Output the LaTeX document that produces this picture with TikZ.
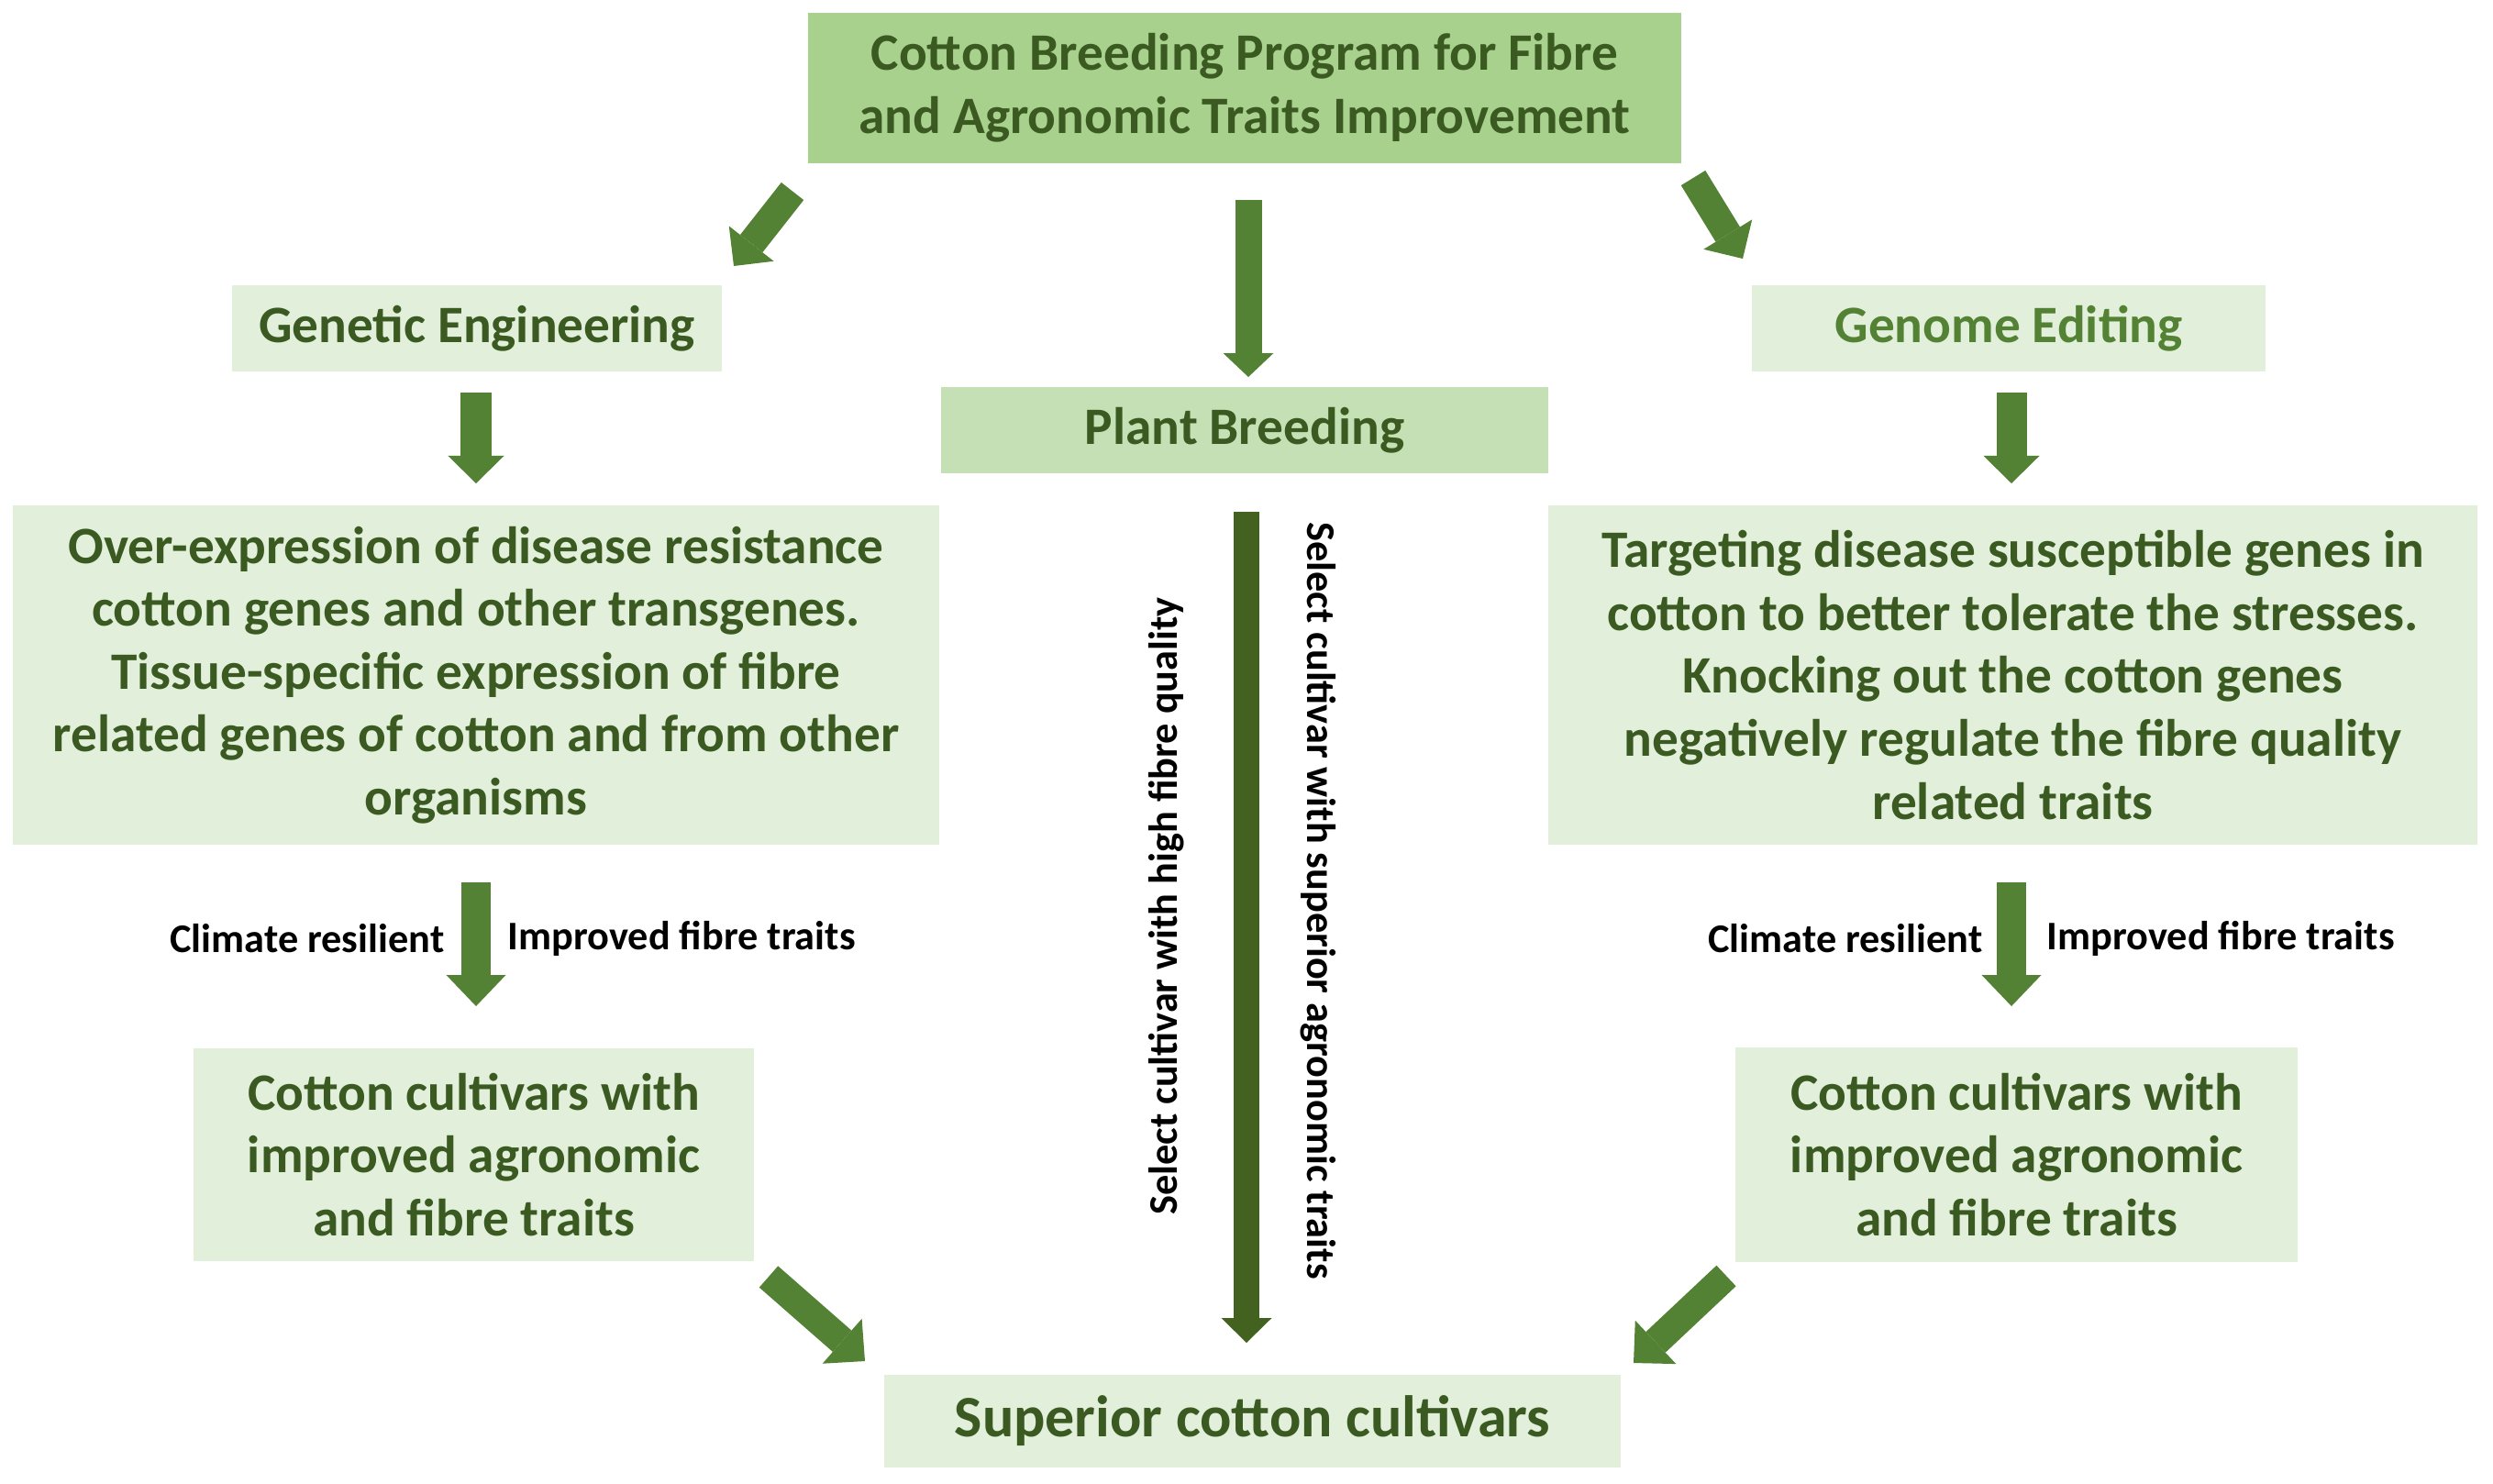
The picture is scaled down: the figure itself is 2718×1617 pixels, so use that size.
\documentclass[tikz,border=0pt]{standalone}
\usepackage{fontspec}
\setmainfont{Carlito}
\usetikzlibrary{arrows.meta}
\definecolor{boxlight}{HTML}{E2EFDA}
\definecolor{boxtop}{HTML}{A9D18E}
\definecolor{boxmid}{HTML}{C5E0B4}
\definecolor{txtgreen}{HTML}{3A5A22}
\definecolor{txtlight}{HTML}{548235}
\definecolor{arrgreen}{HTML}{548235}
\definecolor{arrdark}{HTML}{44621F}
\begin{document}
\begin{tikzpicture}[x=0.01cm,y=-0.01cm,
  box/.style={fill=boxlight, draw=none, inner sep=0pt, align=center, text=txtgreen,
    font=\bfseries\fontsize{16.3}{19.5}\selectfont},
  bigtxt/.style={font=\bfseries\fontsize{18.2}{22}\selectfont},
  lbl/.style={inner sep=0pt, text=black, font=\bfseries\fontsize{12.6}{15}\selectfont},
  arr/.style n args={3}{draw=arrgreen, line width=#1,
    -{Triangle[length=#3, width=#2, line width=0pt]}},
]
\useasboundingbox (0,0) rectangle (2718,1617);

% boxes
\node[box, fill=boxtop, minimum width=9.52cm, minimum height=1.63cm] (top) at (1357,96)
  {Cotton Breeding Program for Fibre\\and Agronomic Traits Improvement};
\node[box, minimum width=5.34cm, minimum height=0.93cm] (ge) at (520,358) {Genetic Engineering};
\node[box, text=txtlight, minimum width=5.60cm, minimum height=0.93cm] (ged) at (2190,358) {Genome Editing};
\node[box, fill=boxmid, minimum width=6.62cm, minimum height=0.93cm] (pb) at (1357,469) {Plant Breeding};
\node[box, minimum width=10.10cm, minimum height=3.70cm] (geb) at (519,736)
  {Over-expression of disease resistance\\cotton genes and other transgenes.\\Tissue-specific expression of fibre\\related genes of cotton and from other\\organisms};
\node[box, minimum width=10.13cm, minimum height=3.70cm] (gedb) at (2194.5,736)
  {Targeting disease susceptible genes in\\cotton to better tolerate the stresses.\\Knocking out the cotton genes\\negatively regulate the fibre quality\\related traits};
\node[box, minimum width=6.11cm, minimum height=2.31cm] (cl) at (516.5,1259)
  {Cotton cultivars with\\improved agronomic\\and fibre traits};
\node[box, minimum width=6.13cm, minimum height=2.33cm] (cr) at (2198.5,1259)
  {Cotton cultivars with\\improved agronomic\\and fibre traits};
\node[box, bigtxt, minimum width=8.03cm, minimum height=1.01cm] (sup) at (1365.5,1549)
  {Superior cotton cultivars};

% arrow end points
\coordinate (a1s) at (864,208.5);  \coordinate (a1e) at (800,290);
\coordinate (a2s) at (1361,218);   \coordinate (a2e) at (1361,411);
\coordinate (a3s) at (1846,194);   \coordinate (a3e) at (1900,282);
\coordinate (a4s) at (519,428);    \coordinate (a4e) at (519,527);
\coordinate (a5s) at (2193,428);   \coordinate (a5e) at (2193,527);
\coordinate (a6s) at (519,962);    \coordinate (a6e) at (519,1097);
\coordinate (a7s) at (2193,962);   \coordinate (a7e) at (2193,1097);
\coordinate (a8s) at (1359,558);   \coordinate (a8e) at (1359,1464);
\coordinate (a9s) at (838,1392);   \coordinate (a9e) at (943,1484);
\coordinate (a10s) at (1882,1391); \coordinate (a10e) at (1781,1486);

\draw[arr={0.31cm}{0.62cm}{0.31cm}] (a1s) -- (a1e);
\draw[arr={0.29cm}{0.55cm}{0.26cm}] (a2s) -- (a2e);
\draw[arr={0.31cm}{0.62cm}{0.31cm}] (a3s) -- (a3e);
\draw[arr={0.33cm}{0.61cm}{0.30cm}] (a4s) -- (a4e);
\draw[arr={0.33cm}{0.61cm}{0.30cm}] (a5s) -- (a5e);
\draw[arr={0.32cm}{0.65cm}{0.34cm}] (a6s) -- (a6e);
\draw[arr={0.32cm}{0.65cm}{0.34cm}] (a7s) -- (a7e);
\draw[arr={0.28cm}{0.55cm}{0.27cm}, draw=arrdark] (a8s) -- (a8e);
\draw[arr={0.31cm}{0.65cm}{0.33cm}] (a9s) -- (a9e);
\draw[arr={0.31cm}{0.65cm}{0.33cm}] (a10s) -- (a10e);

% labels
\node[lbl, anchor=east] (l1) at (485,1023) {Climate resilient};
\node[lbl, anchor=west] (l2) at (553,1023) {Improved fibre traits};
\node[lbl, anchor=east] (l3) at (2162,1023) {Climate resilient};
\node[lbl, anchor=west] (l4) at (2231,1023) {Improved fibre traits};
\node[lbl, rotate=90] (v1) at (1272,988) {Select cultivar with high fibre quality};
\node[lbl, rotate=-90] (v2) at (1437,982) {Select cultivar with superior agronomic traits};
\end{tikzpicture}
\end{document}
